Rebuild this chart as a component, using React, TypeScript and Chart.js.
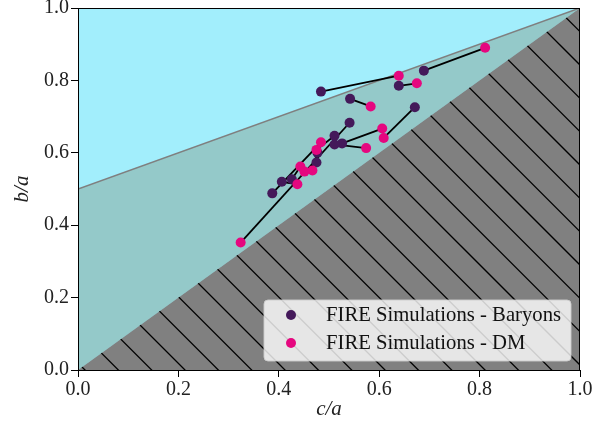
import React, { useEffect, useRef } from "react";
import { Chart, registerables } from "chart.js";

Chart.register(...registerables);

// Data: each index is one simulated galaxy (baryons vs dark matter)
const baryonC = [0.484, 0.689, 0.639, 0.542, 0.671, 0.526, 0.511, 0.541, 0.511, 0.387, 0.406, 0.426, 0.475, 0.477];
const baryonB = [0.769, 0.827, 0.785, 0.749, 0.726, 0.626, 0.623, 0.683, 0.647, 0.488, 0.520, 0.527, 0.573, 0.600];
const dmC = [0.639, 0.811, 0.675, 0.583, 0.609, 0.606, 0.574, 0.324, 0.475, 0.484, 0.437, 0.443, 0.451, 0.467];
const dmB = [0.813, 0.890, 0.792, 0.728, 0.641, 0.667, 0.613, 0.352, 0.608, 0.629, 0.513, 0.562, 0.548, 0.551];

const seriesNames = ["FIRE Simulations - Baryons", "FIRE Simulations - DM"];
const seriesColors = ["#44195a", "#e5077f"];
const xTitle = "c/a";
const yTitle = "b/a";
const axisMin = 0;
const axisMax = 1;
const tickStep = 0.2;

const FONT = "'Liberation Serif', 'Times New Roman', serif";

const regionsPlugin = {
  id: "regions",
  beforeDatasetsDraw(chart: any) {
    const { ctx, chartArea } = chart;
    const xs = chart.scales.x;
    const ys = chart.scales.y;
    const px = (v: number) => xs.getPixelForValue(v);
    const py = (v: number) => ys.getPixelForValue(v);
    ctx.save();
    ctx.beginPath();
    ctx.rect(chartArea.left, chartArea.top, chartArea.right - chartArea.left, chartArea.bottom - chartArea.top);
    ctx.clip();
    ctx.fillStyle = "#a2eefc";
    ctx.fillRect(chartArea.left, chartArea.top, chartArea.right - chartArea.left, chartArea.bottom - chartArea.top);
    ctx.fillStyle = "#94c9c9";
    ctx.beginPath();
    ctx.moveTo(px(0), py(0));
    ctx.lineTo(px(0), py(0.5));
    ctx.lineTo(px(1), py(1));
    ctx.closePath();
    ctx.fill();
    ctx.fillStyle = "#808080";
    ctx.beginPath();
    ctx.moveTo(px(0), py(0));
    ctx.lineTo(px(1), py(1));
    ctx.lineTo(px(1), py(0));
    ctx.closePath();
    ctx.fill();
    ctx.save();
    ctx.clip();
    ctx.strokeStyle = "#000";
    ctx.lineWidth = 1.3;
    const bottom = py(0);
    const spacing = 100 / 3;
    for (let k = -30; k <= 30; k++) {
      const x0 = chartArea.left + 7 + k * spacing;
      ctx.beginPath();
      ctx.moveTo(x0 - 1000, bottom - 1000);
      ctx.lineTo(x0 + 20, bottom + 20);
      ctx.stroke();
    }
    ctx.restore();
    ctx.strokeStyle = "#7f7f7f";
    ctx.lineWidth = 1.6;
    ctx.beginPath();
    ctx.moveTo(px(0), py(0.5));
    ctx.lineTo(px(1), py(1));
    ctx.stroke();
    ctx.restore();
  },
  afterDraw(chart: any) {
    const { ctx, chartArea } = chart;
    ctx.save();
    ctx.strokeStyle = "#000";
    ctx.lineWidth = 1;
    ctx.strokeRect(chartArea.left + 0.5, chartArea.top + 0.5, chartArea.right - chartArea.left - 1, chartArea.bottom - chartArea.top);
    const lx = chartArea.right - 316;
    const ly = chartArea.bottom - 70;
    const lw = 307;
    const lh = 61;
    const r = 4;
    ctx.beginPath();
    ctx.moveTo(lx + r, ly);
    ctx.lineTo(lx + lw - r, ly);
    ctx.quadraticCurveTo(lx + lw, ly, lx + lw, ly + r);
    ctx.lineTo(lx + lw, ly + lh - r);
    ctx.quadraticCurveTo(lx + lw, ly + lh, lx + lw - r, ly + lh);
    ctx.lineTo(lx + r, ly + lh);
    ctx.quadraticCurveTo(lx, ly + lh, lx, ly + lh - r);
    ctx.lineTo(lx, ly + r);
    ctx.quadraticCurveTo(lx, ly, lx + r, ly);
    ctx.closePath();
    ctx.fillStyle = "rgba(255,255,255,0.8)";
    ctx.fill();
    ctx.strokeStyle = "rgba(204,204,204,0.9)";
    ctx.lineWidth = 1;
    ctx.stroke();
    ctx.font = `20.7px ${FONT}`;
    ctx.textBaseline = "middle";
    ctx.textAlign = "left";
    seriesNames.forEach((name, i) => {
      const cy = ly + 15 + i * 28;
      ctx.fillStyle = seriesColors[i];
      ctx.beginPath();
      ctx.arc(lx + 27, cy, 5, 0, Math.PI * 2);
      ctx.fill();
      ctx.fillStyle = "#111";
      ctx.fillText(name, lx + 62, cy + 1);
    });
    ctx.restore();
  },
};

export default function App() {
  const ref = useRef<HTMLCanvasElement | null>(null);
  useEffect(() => {
    if (!ref.current) return;
    const pairSets = baryonC.map((_, i) => ({
      label: "pair" + i,
      data: [
        { x: baryonC[i], y: baryonB[i] },
        { x: dmC[i], y: dmB[i] },
      ],
      showLine: true,
      borderColor: "#000",
      borderWidth: 1.8,
      pointRadius: 0,
      order: 2,
    }));
    const chart = new Chart(ref.current, {
      type: "scatter",
      data: {
        datasets: [
          ...pairSets,
          {
            label: seriesNames[0],
            data: baryonC.map((c, i) => ({ x: c, y: baryonB[i] })),
            backgroundColor: seriesColors[0],
            pointBackgroundColor: seriesColors[0],
            pointBorderWidth: 0,
            pointRadius: 5,
            order: 1,
          },
          {
            label: seriesNames[1],
            data: dmC.map((c, i) => ({ x: c, y: dmB[i] })),
            backgroundColor: seriesColors[1],
            pointBackgroundColor: seriesColors[1],
            pointBorderWidth: 0,
            pointRadius: 5,
            order: 0,
          },
        ] as any,
      },
      options: {
        animation: false,
        responsive: true,
        maintainAspectRatio: false,
        layout: { padding: { top: 8, right: 14, left: 0, bottom: 0 } },
        plugins: { legend: { display: false }, tooltip: { enabled: false } },
        scales: {
          x: {
            type: "linear",
            min: axisMin,
            max: axisMax,
            ticks: {
              stepSize: tickStep,
              callback: (v: any) => Number(v).toFixed(1),
              font: { family: FONT, size: 20 },
              color: "#222",
              padding: 1,
              maxRotation: 0,
            },
            grid: { drawOnChartArea: false, tickLength: 7, color: "#000" },
            border: { display: true, color: "#000" },
            title: {
              display: true,
              text: xTitle,
              font: { family: FONT, size: 21, style: "italic" },
              color: "#222",
              padding: { top: 0, bottom: 7 },
            },
            afterFit: (s: any) => {
              s.height = 59;
              s.paddingLeft = 0;
              s.paddingRight = 0;
            },
          },
          y: {
            type: "linear",
            min: axisMin,
            max: axisMax,
            ticks: {
              stepSize: tickStep,
              callback: (v: any) => Number(v).toFixed(1),
              font: { family: FONT, size: 20 },
              color: "#222",
              padding: 2,
            },
            grid: { drawOnChartArea: false, tickLength: 7, color: "#000" },
            border: { display: true, color: "#000" },
            title: {
              display: true,
              text: yTitle,
              font: { family: FONT, size: 21, style: "italic" },
              color: "#222",
              padding: { top: 10, bottom: 0 },
            },
            afterFit: (s: any) => {
              s.width = 78;
              s.paddingTop = 0;
              s.paddingBottom = 0;
            },
          },
        },
      } as any,
      plugins: [regionsPlugin],
    });
    return () => chart.destroy();
  }, []);
  return (
    <div style={{ position: "absolute", left: 0, top: 0, width: 594, height: 429, background: "#fff" }}>
      <canvas ref={ref} />
    </div>
  );
}
